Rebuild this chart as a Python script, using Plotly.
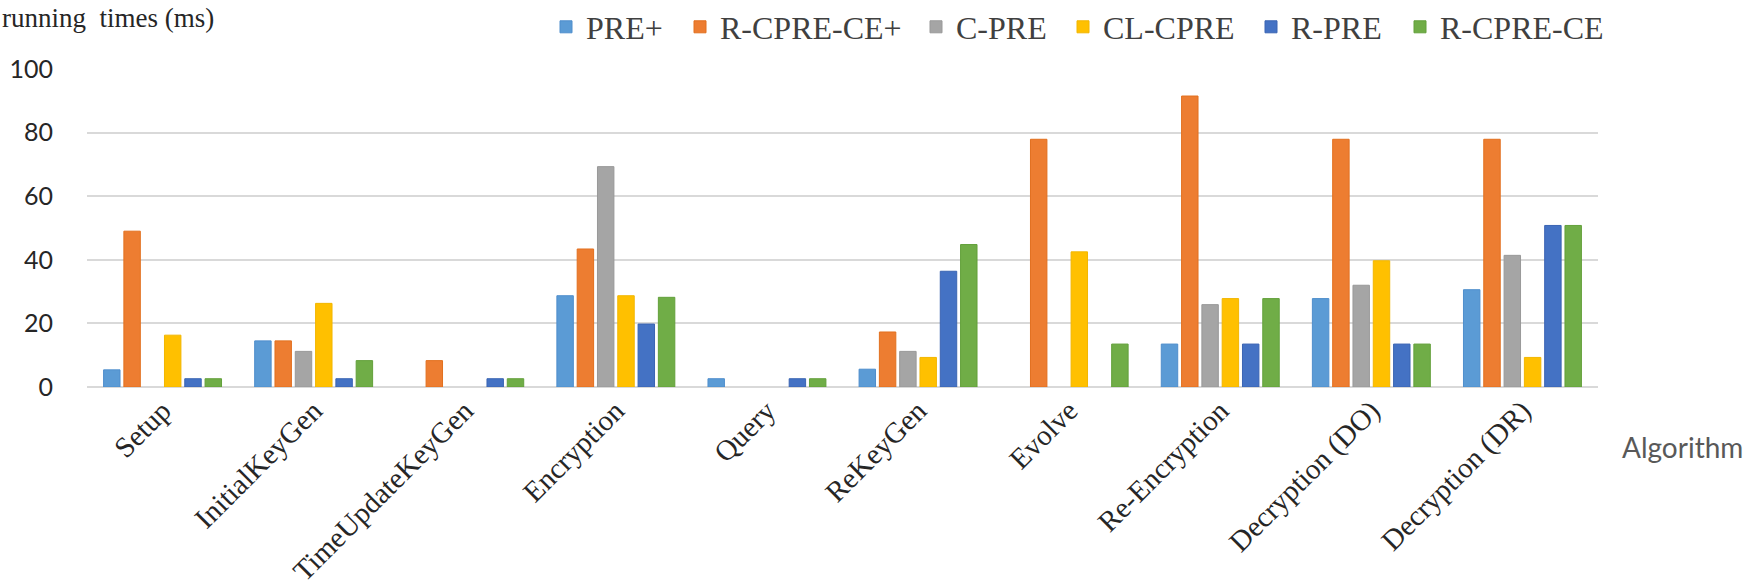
import plotly.graph_objects as go

categories = ["Setup", "InitialKeyGen", "TimeUpdateKeyGen", "Encryption", "Query",
              "ReKeyGen", "Evolve", "Re-Encryption", "Decryption (DO)", "Decryption (DR)"]

series_names = ["PRE+", "R-CPRE-CE+", "C-PRE", "CL-CPRE", "R-PRE", "R-CPRE-CE"]

# None = no bar drawn for that algorithm
pre_plus     = [5.4, 14.5, None, 28.7, 2.6, 5.6,  None, 13.5, 27.8, 30.6]
r_cpre_ce_p  = [49.0, 14.5, 8.3, 43.4, None, 17.3, 77.9, 91.5, 77.9, 77.9]
c_pre        = [None, 11.2, None, 69.3, None, 11.2, None, 25.9, 32.0, 41.4]
cl_cpre      = [16.3, 26.3, None, 28.7, None, 9.3, 42.5, 27.8, 39.7, 9.3]
r_pre        = [2.6, 2.6, 2.6, 19.8, 2.6, 36.4, None, 13.5, 13.5, 50.8]
r_cpre_ce    = [2.6, 8.3, 2.6, 28.2, 2.6, 44.8, 13.5, 27.8, 13.5, 50.8]

series_values = [pre_plus, r_cpre_ce_p, c_pre, cl_cpre, r_pre, r_cpre_ce]
colors = ["#5B9BD5", "#ED7D31", "#A5A5A5", "#FFC000", "#4472C4", "#70AD47"]
edge_colors = ["#4F8ECC", "#E2701F", "#999999", "#F2B600", "#3A64B3", "#63A03B"]

# left edge (px) of each legend entry across the top
legend_x_px = [546, 680, 916, 1063, 1251, 1400]

y_ticks = [0, 20, 40, 60, 80, 100]

fig = go.Figure()
legend_layouts = {}
for i, (name, vals, c, ec, lx) in enumerate(zip(series_names, series_values, colors,
                                                 edge_colors, legend_x_px)):
    key = "legend" if i == 0 else f"legend{i + 1}"
    fig.add_trace(go.Bar(
        name=name, x=categories, y=vals, legend=key,
        marker=dict(color=c, line=dict(color=ec, width=1)),
    ))
    legend_layouts[key] = dict(
        orientation="h", x=lx / 1750, xanchor="left", xref="container",
        y=1 - 27 / 588, yanchor="middle", yref="container",
        font=dict(family="Liberation Serif", size=32, color="#404040"),
        bgcolor="rgba(0,0,0,0)", itemwidth=30,
    )

fig.update_layout(
    width=1750, height=588,
    paper_bgcolor="white", plot_bgcolor="white",
    margin=dict(l=87, r=152, t=69, b=201, autoexpand=False),
    barmode="group", bargap=0.194, bargroupgap=0.19,
    showlegend=True,
    font=dict(family="Liberation Serif", color="#262626"),
    **legend_layouts,
)

fig.update_yaxes(
    range=[0, 100], tickvals=y_ticks, automargin=False,
    showgrid=True, gridcolor="#D9D9D9", gridwidth=1.5,
    zeroline=True, zerolinecolor="#D9D9D9", zerolinewidth=2,
    showline=False, ticks="",
    tickfont=dict(family="Lato", size=25, color="#262626"),
    ticklabelstandoff=33,
)
fig.update_xaxes(
    tickangle=-45, showgrid=False, showline=False, ticks="", automargin=False,
    tickfont=dict(family="Liberation Serif", size=29, color="#262626"),
)

fig.add_annotation(
    text="running  times (ms)", xref="paper", yref="paper",
    x=0, y=1, xshift=-87, yshift=51, xanchor="left", yanchor="middle",
    showarrow=False, font=dict(family="Liberation Serif", size=27, color="#262626"),
)
fig.add_annotation(
    text="Algorithm", xref="paper", yref="paper",
    x=1, y=0, xshift=22, yshift=-60, xanchor="left", yanchor="middle",
    showarrow=False, font=dict(family="Lato", size=28, color="#595959"),
)

fig.write_html("out.html", config={"displayModeBar": False},
               post_script="document.body.style.margin='0px';")
